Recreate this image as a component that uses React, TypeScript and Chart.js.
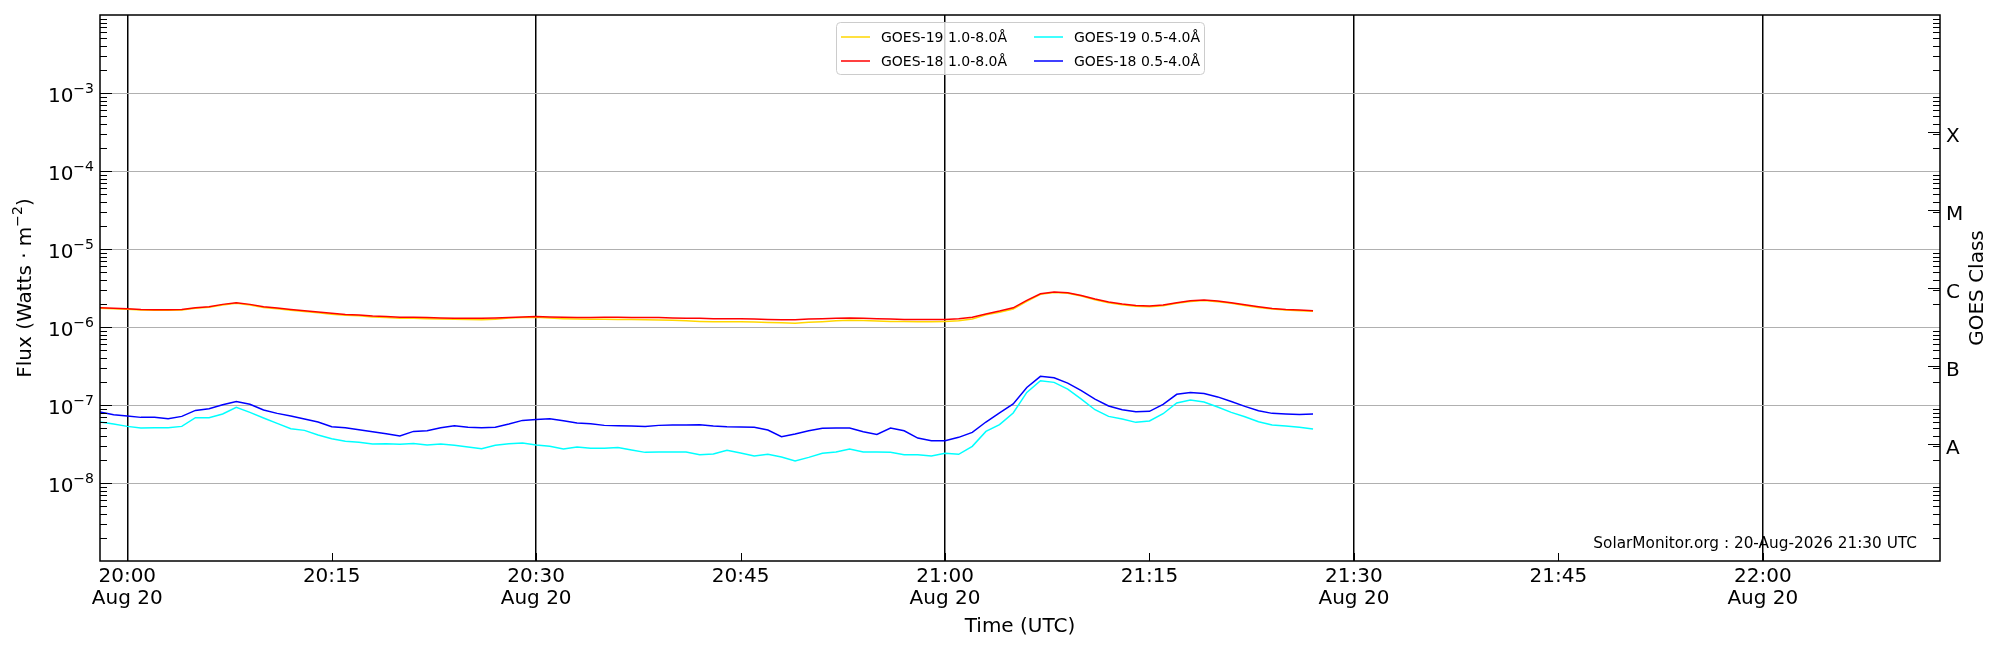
import React, { useEffect, useRef } from "react";
import { Chart, registerables } from "chart.js";

Chart.register(...registerables);

const FONT = '"DejaVu Sans", sans-serif';

// one reading per minute, first one at 19:58 UTC (minutes counted from 20:00)
const FIRST_MINUTE = -2;

// 1.0-8.0 Å channels, in units of 1e-6 W/m²
const goes19Long = [
  1.74, 1.71, 1.69, 1.65, 1.64, 1.64, 1.65, 1.74, 1.79, 1.92, 2.02, 1.92, 1.78, 1.71, 1.64, 1.58,
  1.52, 1.46, 1.41, 1.39, 1.34, 1.32, 1.29, 1.29, 1.28, 1.27, 1.26, 1.25, 1.24, 1.26, 1.3, 1.32,
  1.33, 1.3, 1.28, 1.27, 1.26, 1.26, 1.25, 1.25, 1.24, 1.23, 1.22, 1.2, 1.18, 1.17, 1.17, 1.17,
  1.16, 1.14, 1.13, 1.12, 1.15, 1.17, 1.2, 1.22, 1.21, 1.19, 1.18, 1.18, 1.17, 1.17, 1.18, 1.2,
  1.27, 1.43, 1.55, 1.7, 2.13, 2.62, 2.76, 2.7, 2.49, 2.23, 2.04, 1.93, 1.85, 1.82, 1.87, 2.01,
  2.13, 2.18, 2.11, 2.01, 1.89, 1.78, 1.7, 1.65, 1.62, 1.59,
];
const goes18Long = [
  1.77, 1.74, 1.72, 1.68, 1.67, 1.67, 1.68, 1.77, 1.82, 1.95, 2.05, 1.95, 1.82, 1.75, 1.68, 1.62,
  1.56, 1.5, 1.45, 1.43, 1.38, 1.36, 1.33, 1.33, 1.32, 1.3, 1.29, 1.29, 1.29, 1.3, 1.32, 1.34,
  1.36, 1.34, 1.33, 1.32, 1.32, 1.33, 1.33, 1.32, 1.32, 1.32, 1.3, 1.29, 1.29, 1.28, 1.28, 1.28,
  1.27, 1.25, 1.24, 1.24, 1.27, 1.28, 1.29, 1.3, 1.29, 1.28, 1.27, 1.25, 1.25, 1.25, 1.25, 1.28,
  1.33, 1.47, 1.6, 1.76, 2.19, 2.67, 2.81, 2.75, 2.54, 2.28, 2.09, 1.97, 1.89, 1.86, 1.91, 2.05,
  2.17, 2.22, 2.15, 2.05, 1.93, 1.82, 1.73, 1.68, 1.65, 1.62,
];

// 0.5-4.0 Å channels, in units of 1e-8 W/m²
const goes19Short = [
  6.05, 5.7, 5.32, 5.07, 5.12, 5.12, 5.32, 6.87, 6.87, 7.66, 9.33, 8.05, 6.81, 5.82, 4.97, 4.73,
  4.12, 3.7, 3.42, 3.32, 3.16, 3.19, 3.13, 3.22, 3.07, 3.16, 3.04, 2.89, 2.75, 3.04, 3.19, 3.25,
  3.07, 2.95, 2.72, 2.89, 2.78, 2.78, 2.86, 2.65, 2.47, 2.49, 2.49, 2.49, 2.31, 2.36, 2.62, 2.42,
  2.22, 2.33, 2.15, 1.91, 2.13, 2.4, 2.49, 2.72, 2.49, 2.49, 2.47, 2.31, 2.31, 2.22, 2.4, 2.33,
  2.95, 4.59, 5.6, 7.89, 14.5, 20.5, 19.5, 16.0, 11.9, 8.7, 7.15, 6.61, 5.99, 6.23, 7.73, 10.6,
  11.6, 10.9, 9.42, 8.05, 7.08, 6.11, 5.54, 5.37, 5.17, 4.92,
];
const goes18Short = [
  8.13, 7.51, 7.22, 6.94, 6.94, 6.67, 7.15, 8.53, 8.97, 10.1, 11.1, 10.2, 8.62, 7.81, 7.22, 6.61,
  6.05, 5.27, 5.12, 4.82, 4.55, 4.29, 4.0, 4.59, 4.68, 5.12, 5.43, 5.17, 5.12, 5.17, 5.7, 6.35,
  6.54, 6.67, 6.29, 5.87, 5.76, 5.48, 5.43, 5.37, 5.32, 5.48, 5.54, 5.54, 5.59, 5.37, 5.27, 5.22,
  5.17, 4.78, 3.92, 4.25, 4.68, 5.02, 5.07, 5.07, 4.55, 4.2, 5.07, 4.68, 3.77, 3.49, 3.49, 3.85,
  4.46, 6.05, 7.95, 10.3, 16.8, 23.3, 22.4, 19.1, 15.3, 11.9, 9.7, 8.7, 8.21, 8.29, 10.2, 13.7,
  14.5, 14.0, 12.7, 11.1, 9.61, 8.45, 7.81, 7.66, 7.58, 7.66,
];

const X_MIN = -2; // 19:58
const X_MAX = 133; // 22:13
const xTickMinutes = [0, 15, 30, 45, 60, 75, 90, 105, 120];
const xTickLabels = ["20:00", "20:15", "20:30", "20:45", "21:00", "21:15", "21:30", "21:45", "22:00"];
const dateLabel = "Aug 20";

const Y_MIN = 1e-9;
const Y_MAX = 1e-2;
const yTickExponents = [-8, -7, -6, -5, -4, -3];

const goesClasses = ["A", "B", "C", "M", "X"];
const classThresholds = [1e-8, 1e-7, 1e-6, 1e-5, 1e-4];

const stamp = "SolarMonitor.org : 20-Aug-2026 21:30 UTC";

const toPoints = (vals: number[], unit: number) =>
  vals.map((v, i) => ({ x: FIRST_MINUTE + i, y: v * unit }));

const crisp = (v: number) => Math.round(v) + 0.5;

const overlay = {
  id: "overlay",
  afterDraw(chart: any) {
    const { ctx, chartArea: a, scales } = chart;
    const xs = scales.x;
    const ys = scales.y;
    ctx.save();
    ctx.fillStyle = "#000";
    ctx.strokeStyle = "#000";

    // y ticks, pointing inwards
    ctx.lineWidth = 1;
    ctx.beginPath();
    for (let e = -9; e <= -3; e++) {
      for (let k = 1; k <= 9; k++) {
        const v = k * Math.pow(10, e);
        if (v <= Y_MIN || v >= Y_MAX) continue;
        const py = crisp(ys.getPixelForValue(v));
        const len = k === 1 ? 12 : 7;
        ctx.moveTo(a.left, py);
        ctx.lineTo(a.left + len, py);
        if (k !== 1) {
          ctx.moveTo(a.right - len, py);
          ctx.lineTo(a.right, py);
        }
      }
    }
    // class ticks on the right
    classThresholds.forEach((t) => {
      const py = crisp(ys.getPixelForValue(t * Math.sqrt(10)));
      ctx.moveTo(a.right - 12, py);
      ctx.lineTo(a.right, py);
    });
    // x ticks
    xTickMinutes.forEach((m) => {
      const px = crisp(xs.getPixelForValue(m));
      ctx.moveTo(px, a.bottom);
      ctx.lineTo(px, a.bottom - 8);
    });
    ctx.stroke();

    // frame
    ctx.lineWidth = 1.5;
    ctx.strokeRect(a.left, a.top, a.right - a.left, a.bottom - a.top);

    // x tick labels
    ctx.font = `20px ${FONT}`;
    ctx.textAlign = "center";
    ctx.textBaseline = "alphabetic";
    xTickMinutes.forEach((m, i) => {
      const px = xs.getPixelForValue(m);
      ctx.fillText(xTickLabels[i], px, a.bottom + 21);
      if (m % 30 === 0) ctx.fillText(dateLabel, px, a.bottom + 43);
    });

    // y tick labels (10^n)
    ctx.textAlign = "left";
    yTickExponents.forEach((e) => {
      const py = ys.getPixelForValue(Math.pow(10, e));
      const sup = "\u2212" + String(-e);
      ctx.font = `14px ${FONT}`;
      const wSup = ctx.measureText(sup).width;
      ctx.font = `20px ${FONT}`;
      const wBase = ctx.measureText("10").width;
      const right = a.left - 6;
      ctx.fillText("10", right - wSup - wBase, py + 9);
      ctx.font = `14px ${FONT}`;
      ctx.fillText(sup, right - wSup, py);
    });

    // GOES class labels
    ctx.font = `20px ${FONT}`;
    goesClasses.forEach((c, i) => {
      const py = ys.getPixelForValue(classThresholds[i] * Math.sqrt(10));
      ctx.fillText(c, a.right + 6, py + 10);
    });

    // axis titles
    ctx.textAlign = "center";
    ctx.fillText("Time (UTC)", (a.left + a.right) / 2, 632);

    const midY = (a.top + a.bottom) / 2;
    ctx.save();
    ctx.translate(1983, midY);
    ctx.rotate(-Math.PI / 2);
    ctx.fillText("GOES Class", 0, 0);
    ctx.restore();

    ctx.save();
    ctx.translate(31, midY);
    ctx.rotate(-Math.PI / 2);
    const pre = "Flux (Watts \u00b7 m";
    const sup = "\u22122";
    const post = ")";
    ctx.font = `20px ${FONT}`;
    const w1 = ctx.measureText(pre).width;
    const w3 = ctx.measureText(post).width;
    ctx.font = `14px ${FONT}`;
    const w2 = ctx.measureText(sup).width;
    let tx = -(w1 + w2 + w3) / 2;
    ctx.textAlign = "left";
    ctx.font = `20px ${FONT}`;
    ctx.fillText(pre, tx, 0);
    tx += w1;
    ctx.font = `14px ${FONT}`;
    ctx.fillText(sup, tx, -9);
    tx += w2;
    ctx.font = `20px ${FONT}`;
    ctx.fillText(post, tx, 0);
    ctx.restore();

    // stamp
    ctx.font = `15.3px ${FONT}`;
    ctx.textAlign = "right";
    ctx.fillText(stamp, 1917, 548);

    // legend, two columns
    ctx.beginPath();
    ctx.roundRect(836.5, 22.5, 368, 52, 4);
    ctx.fillStyle = "rgba(255,255,255,0.8)";
    ctx.fill();
    ctx.strokeStyle = "#cccccc";
    ctx.lineWidth = 1;
    ctx.stroke();
    ctx.font = `14px ${FONT}`;
    ctx.textAlign = "left";
    const colX = [841, 1034];
    const rowY = [37, 61];
    chart.data.datasets.forEach((ds: any, i: number) => {
      const cx = colX[Math.floor(i / 2)];
      const cy = rowY[i % 2];
      ctx.strokeStyle = ds.borderColor;
      ctx.lineWidth = 1.5;
      ctx.beginPath();
      ctx.moveTo(cx, cy);
      ctx.lineTo(cx + 29, cy);
      ctx.stroke();
      ctx.fillStyle = "#000";
      ctx.fillText(ds.label, cx + 40, cy + 5);
    });

    ctx.restore();
  },
};

export default function App() {
  const canvasRef = useRef<HTMLCanvasElement | null>(null);

  useEffect(() => {
    const canvas = canvasRef.current;
    if (!canvas) return;

    const chart = new Chart(canvas, {
      type: "line",
      data: {
        datasets: [
          {
            label: "GOES-19 1.0-8.0Å",
            data: toPoints(goes19Long, 1e-6),
            borderColor: "#ffd700",
            order: 1,
          },
          {
            label: "GOES-18 1.0-8.0Å",
            data: toPoints(goes18Long, 1e-6),
            borderColor: "#ff0000",
            order: 0,
          },
          {
            label: "GOES-19 0.5-4.0Å",
            data: toPoints(goes19Short, 1e-8),
            borderColor: "#00ffff",
            order: 3,
          },
          {
            label: "GOES-18 0.5-4.0Å",
            data: toPoints(goes18Short, 1e-8),
            borderColor: "#0000ff",
            order: 2,
          },
        ],
      },
      options: {
        animation: false,
        responsive: true,
        maintainAspectRatio: false,
        events: [],
        layout: { padding: { top: 15, left: 0, right: 0, bottom: 0 } },
        elements: {
          line: { borderWidth: 1.5, tension: 0, fill: false },
          point: { radius: 0 },
        },
        plugins: { legend: { display: false }, tooltip: { enabled: false } },
        scales: {
          x: {
            type: "linear",
            min: X_MIN,
            max: X_MAX,
            ticks: { display: false },
            border: { display: false },
            grid: {
              drawTicks: false,
              lineWidth: 1.5,
              color: (c: any) => (c.tick && c.tick.value % 30 === 0 ? "#000" : "rgba(0,0,0,0)"),
            },
            afterBuildTicks: (s: any) => {
              s.ticks = xTickMinutes.map((v) => ({ value: v }));
            },
            afterFit: (s: any) => {
              s.height = 89;
            },
          },
          y: {
            type: "logarithmic",
            position: "left",
            min: Y_MIN,
            max: Y_MAX,
            ticks: { display: false },
            border: { display: false },
            grid: { drawTicks: false, color: "#b0b0b0", lineWidth: 1 },
            afterBuildTicks: (s: any) => {
              s.ticks = yTickExponents.map((e) => ({ value: Math.pow(10, e) }));
            },
            afterFit: (s: any) => {
              s.width = 100;
            },
          },
          y2: {
            type: "logarithmic",
            position: "right",
            min: Y_MIN,
            max: Y_MAX,
            ticks: { display: false },
            border: { display: false },
            grid: { display: false, drawTicks: false },
            afterFit: (s: any) => {
              s.width = 60;
            },
          },
        },
      },
      plugins: [overlay],
    });

    return () => chart.destroy();
  }, []);

  return (
    <div
      style={{
        position: "fixed",
        left: 0,
        top: 0,
        width: 2000,
        height: 650,
        background: "#fff",
      }}
    >
      <canvas ref={canvasRef} />
    </div>
  );
}
